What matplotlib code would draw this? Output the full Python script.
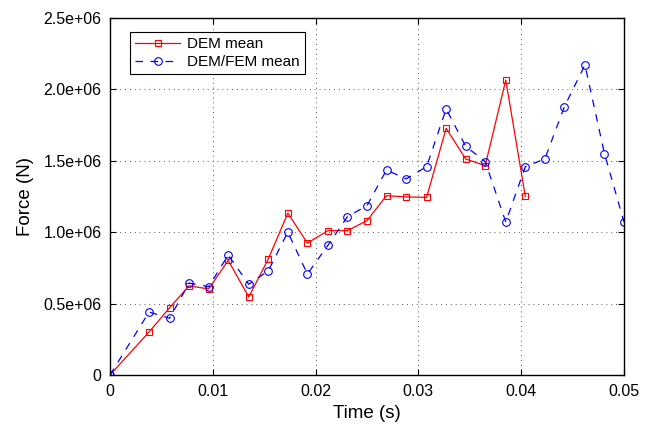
"""Force vs time: DEM mean against DEM/FEM mean."""
import matplotlib
matplotlib.use("Agg")
import matplotlib.pyplot as plt
from matplotlib.ticker import FixedLocator

plt.rcParams["font.family"] = ["Liberation Sans", "DejaVu Sans"]

# ---------------------------------------------------------------------
# Data
# ---------------------------------------------------------------------
time_dem = [0.0, 0.0038, 0.0058, 0.0077, 0.0096, 0.0115, 0.0135, 0.0154,
            0.0173, 0.0192, 0.0212, 0.0231, 0.0250, 0.0269, 0.0288, 0.0308,
            0.0327, 0.0346, 0.0365, 0.0385, 0.0404]
force_dem = [0.0, 0.301e6, 0.471e6, 0.625e6, 0.602e6, 0.803e6, 0.546e6,
             0.812e6, 1.134e6, 0.924e6, 1.011e6, 1.011e6, 1.081e6, 1.256e6,
             1.247e6, 1.244e6, 1.728e6, 1.513e6, 1.466e6, 2.066e6, 1.251e6]

time_fem = [0.0, 0.0038, 0.0058, 0.0077, 0.0096, 0.0115, 0.0135, 0.0154,
            0.0173, 0.0192, 0.0212, 0.0231, 0.0250, 0.0269, 0.0288, 0.0308,
            0.0327, 0.0346, 0.0365, 0.0385, 0.0404, 0.0423, 0.0442, 0.0462,
            0.0481, 0.0500]
force_fem = [0.0, 0.441e6, 0.397e6, 0.644e6, 0.618e6, 0.840e6, 0.635e6,
             0.730e6, 1.001e6, 0.707e6, 0.908e6, 1.109e6, 1.186e6, 1.436e6,
             1.373e6, 1.459e6, 1.863e6, 1.602e6, 1.494e6, 1.071e6, 1.459e6,
             1.513e6, 1.879e6, 2.171e6, 1.550e6, 1.071e6]

x_ticks = [0, 0.01, 0.02, 0.03, 0.04, 0.05]
x_tick_labels = ["0", "0.01", "0.02", "0.03", "0.04", "0.05"]
y_ticks = [0, 0.5e6, 1.0e6, 1.5e6, 2.0e6, 2.5e6]
y_tick_labels = ["0", "0.5e+06", "1.0e+06", "1.5e+06", "2.0e+06", "2.5e+06"]

# ---------------------------------------------------------------------
# Plot
# ---------------------------------------------------------------------
fig = plt.figure(figsize=(6.5, 4.3), dpi=100)
ax = fig.add_axes([0.1692, 0.1279, 0.7908, 0.8302])

ax.plot(time_dem, force_dem, color="red", linestyle="-", linewidth=0.9,
        marker="s", markersize=4, markerfacecolor="none",
        markeredgecolor="red", markeredgewidth=0.8, label="DEM mean")
ax.plot(time_fem, force_fem, color="blue", linestyle=(0, (6, 6)),
        linewidth=0.9, marker="o", markersize=5.5, markerfacecolor="none",
        markeredgecolor="blue", markeredgewidth=0.8, label="DEM/FEM mean")

ax.set_xlim(0, 0.05)
ax.set_ylim(0, 2.5e6)
ax.xaxis.set_major_locator(FixedLocator(x_ticks))
ax.set_xticklabels(x_tick_labels)
ax.yaxis.set_major_locator(FixedLocator(y_ticks))
ax.set_yticklabels(y_tick_labels)
ax.tick_params(direction="in", top=True, right=True, length=4, width=0.8,
               labelsize=11.5)
ax.tick_params(axis="x", pad=6.5)
ax.tick_params(axis="y", pad=6)
ax.grid(True, linestyle=(0, (1, 4)), color="#555555", linewidth=0.7)
for sp in ax.spines.values():
    sp.set_linewidth(1.0)

ax.set_xlabel("Time (s)", fontsize=13.5)
ax.set_ylabel("Force (N)", fontsize=13.5)
ax.xaxis.set_label_coords(0.5, -0.083)
ax.yaxis.set_label_coords(-0.147, 0.5)

leg = ax.legend(loc="upper left", bbox_to_anchor=(0.039, 0.961),
                borderaxespad=0, fontsize=11, fancybox=False, framealpha=1,
                edgecolor="black", handlelength=2.9, handletextpad=0.45,
                borderpad=0.35, labelspacing=0.25)
leg.get_frame().set_linewidth(0.8)

fig.savefig("out.png", dpi=100)
plt.close(fig)
